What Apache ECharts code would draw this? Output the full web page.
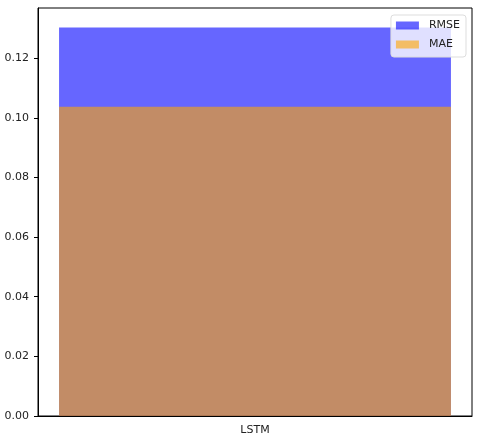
<!DOCTYPE html>
<html><head><meta charset="utf-8">
<script src="https://cdn.jsdelivr.net/npm/echarts@6/dist/echarts.min.js"></script>
<style>html,body{margin:0;padding:0;background:#fff}#c{width:480px;height:440px}</style>
</head><body><div id="c"></div>
<script>
const categories = ['LSTM'];
const rmseValues = [0.1303];
const maeValues = [0.1037];
const yTicks = [0, 0.02, 0.04, 0.06, 0.08, 0.10, 0.12];

const chart = echarts.init(document.getElementById('c'), null, {renderer: 'canvas'});
const font = 'DejaVu Sans';
chart.setOption({
  animation: false,
  backgroundColor: '#fff',
  grid: {left: 38, right: 8, top: 8, bottom: 24, show: true, borderColor: '#000', borderWidth: 1, backgroundColor: 'transparent'},
  legend: {
    orient: 'vertical', right: 14, top: 15,
    itemWidth: 23, itemHeight: 8, itemGap: 6,
    padding: [4, 6, 6, 5],
    borderColor: '#ddd', borderWidth: 1, borderRadius: 3,
    backgroundColor: 'rgba(255,255,255,0.8)',
    textStyle: {fontFamily: font, fontSize: 11, color: '#222', padding: [0, 0, 0, 5], lineHeight: 13},
    data: [{name: 'RMSE', icon: 'rect'}, {name: 'MAE', icon: 'rect'}]
  },
  xAxis: {
    type: 'category', data: categories, boundaryGap: true,
    axisLine: {lineStyle: {color: '#000', width: 1}},
    axisTick: {alignWithLabel: true, length: 4, lineStyle: {color: '#000'}},
    axisLabel: {fontFamily: font, fontSize: 11, color: '#222', margin: 9},
    splitLine: {show: false}
  },
  yAxis: {
    type: 'value', min: 0, max: 0.1368, interval: 0.02,
    axisLine: {show: true, lineStyle: {color: '#000', width: 1}},
    axisTick: {show: true, length: 4, lineStyle: {color: '#000'}},
    axisLabel: {fontFamily: font, fontSize: 11, color: '#222', margin: 9, showMaxLabel: false,
      formatter: v => yTicks.some(t => Math.abs(t - v) < 1e-9) ? v.toFixed(2) : ''},
    splitLine: {show: false}
  },
  series: [
    {name: 'RMSE', type: 'bar', data: rmseValues, barWidth: '90.3%', barGap: '-100%',
      itemStyle: {color: 'rgba(0,0,255,0.6)'}},
    {name: 'MAE', type: 'bar', data: maeValues, barWidth: '90.3%', barGap: '-100%',
      itemStyle: {color: 'rgba(255,165,0,0.6)'}}
  ]
});
</script></body></html>
